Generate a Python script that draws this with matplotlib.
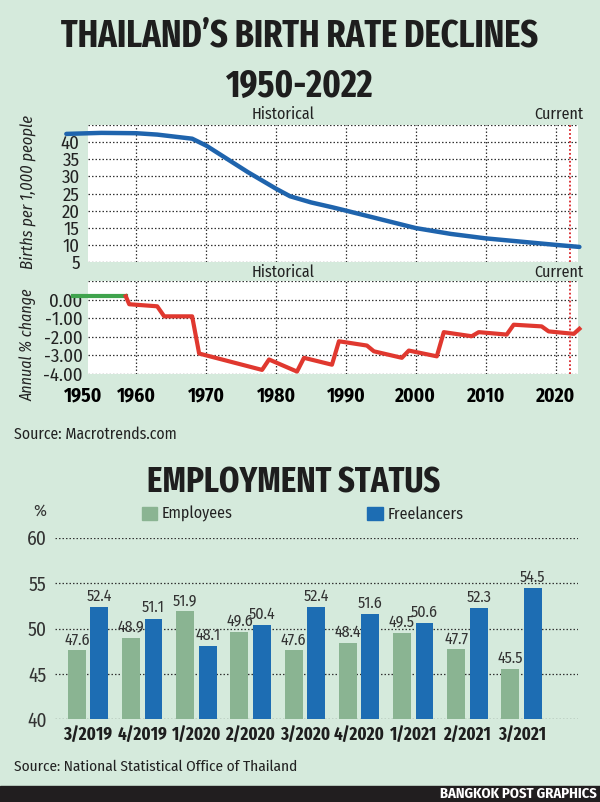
import numpy as np
import matplotlib.pyplot as plt
from matplotlib.patches import Rectangle

plt.rcParams['font.family'] = ['Fira Sans Condensed', 'DejaVu Sans']
TITLE_FONT = ['Fira Sans Extra Condensed', 'DejaVu Sans']

# ---- data: births per 1,000 people ----
birth_years = [1950, 1955, 1960, 1963, 1968, 1970, 1976, 1980, 1982, 1985, 1988, 1990,
               2000, 2005, 2010, 2020, 2023.4]
birth_rate = [42.4, 42.7, 42.6, 42.2, 41.0, 39.0, 31.2, 26.4, 24.2, 22.4, 21.0, 20.0,
              14.9, 13.2, 11.9, 10.0, 9.4]

# ---- data: annual % change ----
green_years = [1951, 1958.5]
green_change = [0.18, 0.18]
red_years = [1958.5, 1959, 1963, 1964, 1968, 1969, 1978, 1979, 1983, 1984, 1988,
             1989, 1993, 1994, 1998, 1999, 2003, 2004, 2008, 2009, 2013, 2014,
             2018, 2019, 2022.6, 2023.4]
red_change = [0.18, -0.25, -0.36, -0.9, -0.9, -2.9, -3.78, -3.22, -3.87, -3.13, -3.5,
              -2.24, -2.47, -2.78, -3.13, -2.74, -3.05, -1.75, -1.97, -1.75, -1.88, -1.35,
              -1.44, -1.71, -1.84, -1.57]

# ---- data: employment status ----
quarters = ['3/2019', '4/2019', '1/2020', '2/2020', '3/2020', '4/2020', '1/2021', '2/2021', '3/2021']
employees = [47.6, 48.9, 51.9, 49.6, 47.6, 48.4, 49.5, 47.7, 45.5]
freelancers = [52.4, 51.1, 48.1, 50.4, 52.4, 51.6, 50.6, 52.3, 54.5]

bg = '#d5eadc'
ink = '#222222'
grid_kw = dict(color='#333333', linestyle=(0, (1.2, 1.6)), linewidth=0.9)
W, H = 600, 802

fig = plt.figure(figsize=(6, 8.02), dpi=100, facecolor=bg)

def box(l, t, r, b):
    return [l / W, 1 - b / H, (r - l) / W, (b - t) / H]

fig.text(0.5, 1 - 36 / H, 'THAILAND’S BIRTH RATE DECLINES', ha='center', va='center',
         fontsize=26.8, fontweight='bold', color='#1e1e1e', family=TITLE_FONT)
fig.text(0.5, 1 - 87 / H, '1950-2022', ha='center', va='center',
         fontsize=26.8, fontweight='bold', color='#1e1e1e', family=TITLE_FONT)

# top panel
ax1 = fig.add_axes(box(88, 125, 578, 262))
ax1.set_facecolor('white')
ax1.plot(birth_years, birth_rate, color='#1f64ad', lw=3.2, clip_on=False, solid_capstyle='round', zorder=3)
ax1.set_xlim(1953.1, 2023.2)
ax1.set_ylim(5, 45)
ax1.set_xticks(range(1960, 2030, 10))
ax1.set_yticks(range(5, 50, 5))
ax1.set_yticklabels([str(v) for v in range(5, 45, 5)] + [''])
ax1.grid(True, **grid_kw)
ax1.tick_params(length=0, labelbottom=False, labelsize=13.5, pad=6, labelcolor=ink)
ax1.axvline(2022, color='#d8262b', linestyle=(0, (1, 1.2)), lw=1.3, zorder=2)
for s in ax1.spines.values():
    s.set_visible(False)
ax1.text(1981, 48.2, 'Historical', fontsize=11.5, va='center', ha='center', color=ink)
ax1.text(2024.0, 48.2, 'Current', fontsize=11.5, va='center', ha='right', color=ink)
fig.text(28 / W, 1 - 192 / H, 'Births per 1,000 people', rotation=90, ha='center', va='center',
         fontsize=11.8, style='italic', color=ink)

# change panel
ax2 = fig.add_axes(box(88, 281, 578, 374))
ax2.set_facecolor('white')
ax2.plot(green_years, green_change, color='#3fa34d', lw=3, clip_on=False, zorder=3)
ax2.plot(red_years, red_change, color='#e0382f', lw=3, clip_on=False, zorder=3)
ax2.set_xlim(1953.1, 2023.2)
ax2.set_ylim(-4, 1)
ax2.set_xticks(range(1960, 2030, 10))
ax2.set_yticks([-4, -3, -2, -1, 0, 1])
ax2.set_yticklabels(['-4.00', '-3.00', '-2.00', '-1.00', '0.00', ''])
ax2.grid(True, **grid_kw)
ax2.tick_params(axis='y', length=0, labelsize=13.5, pad=4, labelcolor=ink)
ax2.tick_params(axis='x', length=0, labelsize=14, pad=9)
for lbl in ax2.get_xticklabels():
    lbl.set_fontweight('bold')
ax2.text(1952.4, -5.15, '1950', fontsize=14, fontweight='bold', ha='center', va='center', clip_on=False)
ax2.axvline(2022, color='#d8262b', linestyle=(0, (1, 1.2)), lw=1.3, zorder=2)
for s in ax2.spines.values():
    s.set_visible(False)
ax2.text(1981, 1.45, 'Historical', fontsize=11.5, va='center', ha='center', color=ink)
ax2.text(2024.0, 1.45, 'Current', fontsize=11.5, va='center', ha='right', color=ink)
fig.text(28 / W, 1 - 345 / H, 'Annual % change', rotation=90, ha='center', va='center',
         fontsize=11.5, style='italic', color=ink)

fig.text(14 / W, 1 - 434 / H, 'Source: Macrotrends.com', ha='left', va='center', fontsize=11.3, color=ink)

fig.text(0.49, 1 - 483 / H, 'EMPLOYMENT STATUS', ha='center', va='center',
         fontsize=25.5, fontweight='bold', color='#1e1e1e', family=TITLE_FONT)

# bar panel
ax3 = fig.add_axes(box(55, 537.7, 578, 719.3))
ax3.set_facecolor('none')
x = np.arange(len(quarters))
bw = 0.33
off = 0.2075
b1 = ax3.bar(x - off, employees, bw, color='#8ab492', label='Employees', zorder=2)
b2 = ax3.bar(x + off, freelancers, bw, color='#1d6db3', label='Freelancers', zorder=2)
for bars, vals in ((b1, employees), (b2, freelancers)):
    for r, v in zip(bars, vals):
        ax3.text(r.get_x() + r.get_width() / 2, v + 0.3, f'{v:.1f}', ha='center', va='bottom',
                 fontsize=11.5, color='#333333')
ax3.set_xlim(-0.61, 9.04)
ax3.set_ylim(40, 60)
ax3.set_yticks([40, 45, 50, 55, 60])
ax3.set_xticks(x)
ax3.set_xticklabels(quarters, fontweight='bold', family=TITLE_FONT)
ax3.grid(True, axis='y', **grid_kw)
ax3.set_axisbelow(True)
ax3.tick_params(axis='y', length=0, labelsize=14, pad=6, labelcolor='#333333')
ax3.tick_params(axis='x', length=0, labelsize=13.2, pad=5, labelcolor='#1e1e1e')
for s in ax3.spines.values():
    s.set_visible(False)
fig.text(40 / W, 1 - 511 / H, '%', ha='center', va='center', fontsize=12.5, color='#333333')

# legend
fig.patches.append(Rectangle((142 / W, 1 - 520 / H), 15 / W, 13 / H, transform=fig.transFigure,
                             color='#8ab492'))
fig.text(162 / W, 1 - 514 / H, 'Employees', ha='left', va='center', fontsize=11.5, color=ink)
fig.patches.append(Rectangle((367 / W, 1 - 520 / H), 16 / W, 13 / H, transform=fig.transFigure,
                             color='#1d6db3'))
fig.text(388 / W, 1 - 514 / H, 'Freelancers', ha='left', va='center', fontsize=11.5, color=ink)

fig.text(14 / W, 1 - 767 / H, 'Source: National Statistical Office of Thailand', ha='left', va='center',
         fontsize=11, color=ink)

fig.patches.append(Rectangle((0, 0), 1, 16 / H, transform=fig.transFigure, color='#211e1f'))
fig.text(597 / W, 1 - 794 / H, 'BANGKOK POST GRAPHICS', ha='right', va='center',
         fontsize=10.5, fontweight='bold', color='white')

fig.savefig('out.png', dpi=100, facecolor=bg)
